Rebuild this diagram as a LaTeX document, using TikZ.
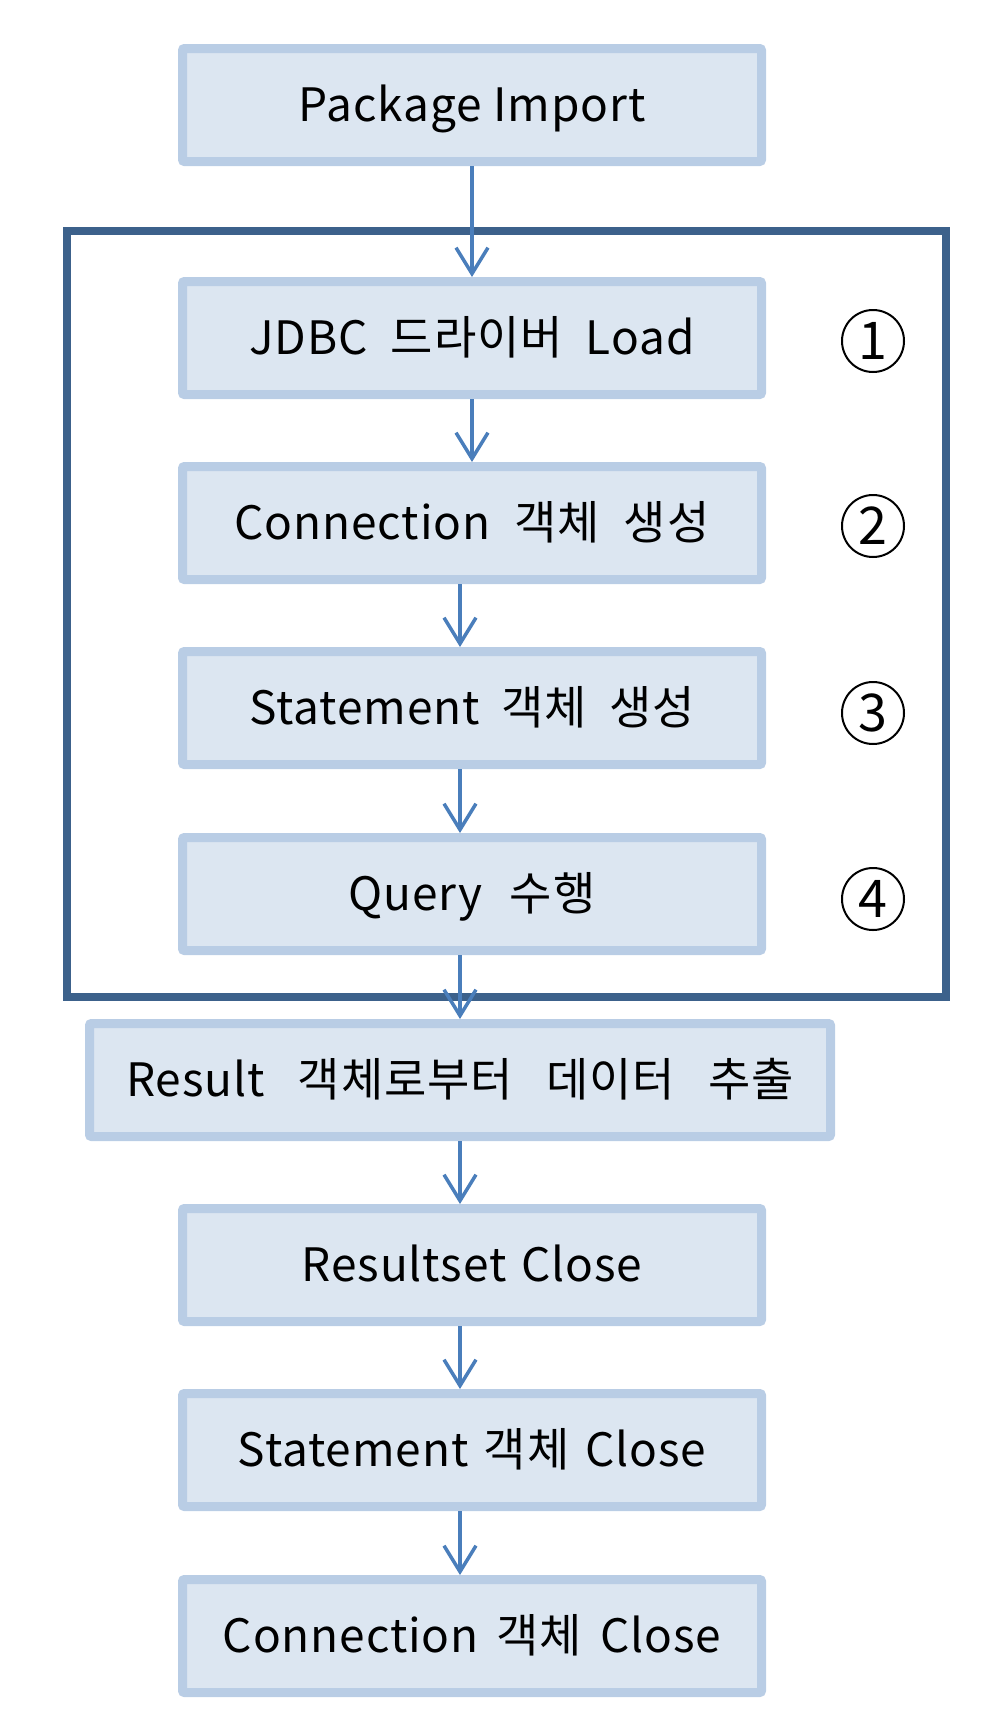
\documentclass[tikz,border=0pt]{standalone}
\usepackage{fontspec}
\setmainfont{Noto Sans CJK KR}
\newfontfamily\boxfont[LetterSpace=2]{Noto Sans CJK KR}
\newcommand\gp[1]{\hspace{#1pt}}
\usetikzlibrary{arrows.meta,calc}
\definecolor{boxfill}{HTML}{DCE6F1}
\definecolor{boxline}{HTML}{B9CDE5}
\definecolor{arrowblue}{HTML}{4A7EBB}
\definecolor{framecol}{HTML}{3C618B}
\tikzset{
  stepbox/.style={draw=boxline, line width=9pt, fill=boxfill, rounded corners=2pt,
    minimum width=579pt, minimum height=113pt, inner sep=0pt,
    text height=33pt, text depth=0pt,
    font=\boxfont\fontsize{46}{50}\selectfont},
  flowarrow/.style={draw=arrowblue, line width=3.5pt,
    -{Straight Barb[length=26pt,width=32pt]}},
  groupframe/.style={draw=framecol, line width=8pt, minimum width=878.5pt,
    minimum height=766pt, inner sep=0pt},
  numcircle/.style={circle, draw=black, line width=2pt, minimum size=62pt,
    inner sep=0pt, font=\fontsize{52}{54}\selectfont}
}
\begin{document}
\begin{tikzpicture}[x=1pt,y=-1pt]
\useasboundingbox (0,0) rectangle (1002,1724);
\node[groupframe] (frame) at (506.25,614) {};
\node[stepbox] (pkg) at (472,105) {Package Import};
\node[stepbox] (jdbc) at (472,338) {JDBC\gp{23}드라이버\gp{23}Load};
\node[stepbox] (conn) at (472,523) {Connection\gp{24}객체\gp{24}생성};
\node[stepbox] (stmt) at (472,708) {Statement\gp{22}객체\gp{22}생성};
\node[stepbox] (query) at (472,894) {Query\gp{27}수행};
\node[stepbox, minimum width=741pt] (result) at (460,1080) {Result\gp{33}객체로부터\gp{33}데이터\gp{33}추출};
\node[stepbox] (rsclose) at (472,1265) {Resultset\gp{15}Close};
\node[stepbox] (stclose) at (472,1450) {Statement\gp{15.5}객체\gp{15.5}Close};
\node[stepbox] (cnclose) at (472,1636) {Connection\gp{18}객체\gp{18}Close};
\node[numcircle] (n1) at (873,341) {1};
\node[numcircle] (n2) at (873,526) {2};
\node[numcircle] (n3) at (873,713) {3};
\node[numcircle] (n4) at (873,899) {4};
\draw[flowarrow] (pkg.south) -- (jdbc.north);
\draw[flowarrow] (jdbc.south) -- (conn.north);
\draw[flowarrow] (conn.south -| result.center) -- (stmt.north -| result.center);
\draw[flowarrow] (stmt.south -| result.center) -- (query.north -| result.center);
\draw[flowarrow] (query.south -| result.center) -- (result.north);
\draw[flowarrow] (result.south) -- (rsclose.north -| result.center);
\draw[flowarrow] (rsclose.south -| result.center) -- (stclose.north -| result.center);
\draw[flowarrow] (stclose.south -| result.center) -- (cnclose.north -| result.center);
\end{tikzpicture}
\end{document}
